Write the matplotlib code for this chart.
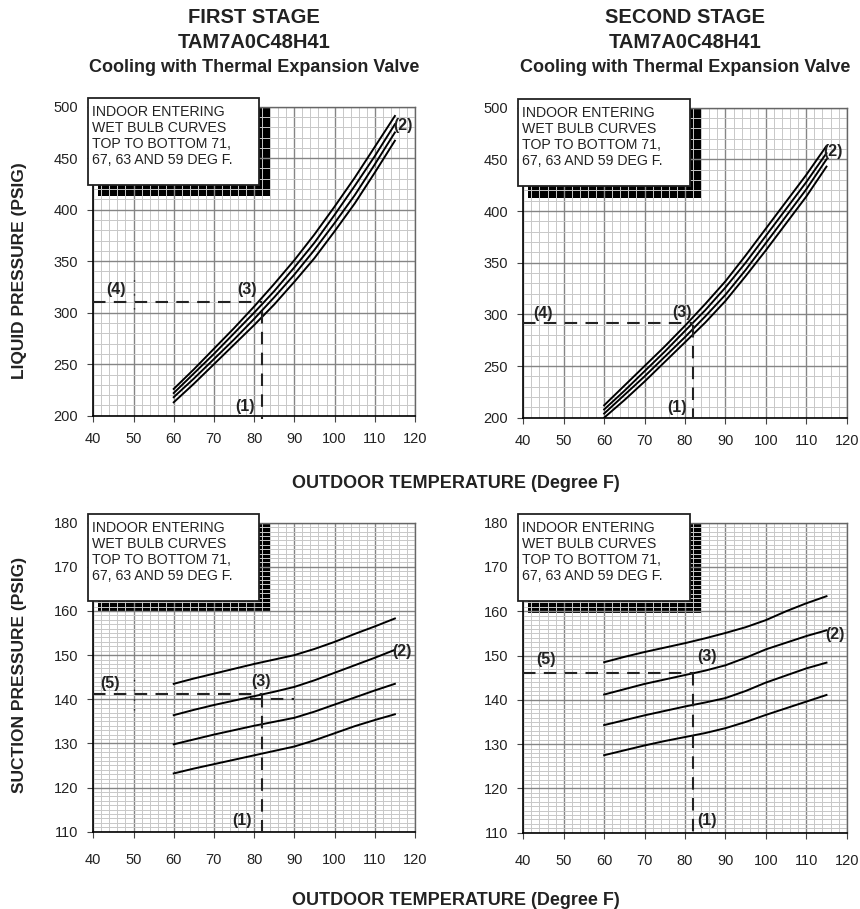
import numpy as np
import matplotlib.pyplot as plt
from matplotlib.patches import Rectangle

plt.rcParams['font.family'] = ['Liberation Sans', 'DejaVu Sans']

temp = [60, 65, 70, 75, 80, 85, 90, 95, 100, 105, 110, 115]

# liquid pressure (psig), first stage, wet bulb 71 / 67 / 63 / 59
liq1_71 = [226, 245, 265, 285, 306, 328, 351, 376, 403, 431, 461, 491]
liq1_67 = [222, 241, 260, 280, 300, 321, 344, 368, 395, 423, 452, 483]
liq1_63 = [218, 236, 255, 274, 294, 315, 337, 361, 387, 414, 444, 475]
liq1_59 = [213, 231, 250, 269, 288, 308, 330, 353, 379, 406, 436, 467]

# liquid pressure (psig), second stage
liq2_71 = [212, 231, 250, 269, 289, 310, 332, 357, 383, 409, 435, 463]
liq2_67 = [208, 226, 245, 264, 284, 304, 326, 350, 376, 402, 428, 456]
liq2_63 = [204, 222, 240, 259, 278, 298, 319, 343, 369, 395, 421, 450]
liq2_59 = [200, 217, 235, 254, 273, 292, 313, 337, 362, 388, 414, 443]

# suction pressure (psig), first stage
suc1_71 = [143.5, 144.7, 145.8, 146.9, 148.0, 149.0, 150.0, 151.4, 153.0, 154.8, 156.5, 158.3]
suc1_67 = [136.4, 137.6, 138.7, 139.7, 140.7, 141.7, 142.8, 144.3, 146.0, 147.7, 149.4, 151.2]
suc1_63 = [129.8, 130.9, 132.0, 133.0, 134.0, 134.9, 135.8, 137.2, 138.8, 140.4, 142.0, 143.5]
suc1_59 = [123.2, 124.3, 125.3, 126.3, 127.3, 128.3, 129.3, 130.7, 132.3, 133.9, 135.3, 136.6]

# suction pressure (psig), second stage
suc2_71 = [148.5, 149.7, 150.8, 151.8, 152.8, 153.9, 155.1, 156.4, 158.0, 160.0, 161.8, 163.4]
suc2_67 = [141.2, 142.4, 143.6, 144.6, 145.6, 146.6, 147.8, 149.5, 151.4, 152.9, 154.4, 155.7]
suc2_63 = [134.3, 135.4, 136.5, 137.5, 138.5, 139.4, 140.4, 142.0, 143.9, 145.5, 147.1, 148.4]
suc2_59 = [127.5, 128.6, 129.7, 130.7, 131.6, 132.5, 133.6, 135.0, 136.6, 138.1, 139.6, 141.1]

# example reading: outdoor temp and the pressure found at (3)
t_read = 82
liq1_read, liq2_read = 310, 292
suc1_read, suc2_read = 141.2, 146.0

box_txt = 'INDOOR ENTERING\nWET BULB CURVES\nTOP TO BOTTOM 71,\n67, 63 AND 59 DEG F.'
stage_titles = [('FIRST STAGE', 'TAM7A0C48H41', 'Cooling with Thermal Expansion Valve'),
                ('SECOND STAGE', 'TAM7A0C48H41', 'Cooling with Thermal Expansion Valve')]

W, H = 860, 909
fig = plt.figure(figsize=(W / 100, H / 100), dpi=100)


def px_axes(x0, y0, x1, y1):
    # pixel box (top-left origin) -> figure fraction axes
    return fig.add_axes([x0 / W, 1 - y1 / H, (x1 - x0) / W, (y1 - y0) / H])


def panel(ax, curves, ylo, yhi, ymaj, ymin, xpad):
    ax.set_xlim(40, 120)
    ax.set_ylim(ylo, yhi)
    ax.set_xticks(np.arange(40, 121, 10))
    ax.set_xticks(np.arange(40, 121, 2), minor=True)
    ax.set_yticks(np.arange(ylo, yhi + 1, ymaj))
    ax.set_yticks(np.arange(ylo, yhi + 0.1, ymin), minor=True)
    ax.grid(which='minor', color='#c8c8c8', lw=0.7)
    ax.grid(which='major', color='#858585', lw=1.0)
    ax.tick_params(which='minor', length=0)
    ax.tick_params(axis='x', which='major', length=4, width=0.8, pad=xpad,
                   labelsize=10.5, labelcolor='#222222', color='#444444')
    ax.tick_params(axis='y', which='major', length=4, width=0.8, pad=7,
                   labelsize=10.5, labelcolor='#222222', color='#444444')
    for s in ['left', 'bottom']:
        ax.spines[s].set_color('black')
        ax.spines[s].set_linewidth(1.2)
    for s in ['top', 'right']:
        ax.spines[s].set_color('#666666')
        ax.spines[s].set_linewidth(1.0)

    for c in curves:
        ax.plot(temp, c, color='black', lw=1.4, zorder=2.5)

    # black shadow under the note box, grid shows through it
    ax.add_patch(Rectangle((0.015, 0.71), 0.535, 0.285, transform=ax.transAxes,
                           facecolor='black', edgecolor='none', zorder=1, clip_on=False))
    ax.add_patch(Rectangle((-0.016, 0.748), 0.53, 0.28, transform=ax.transAxes,
                           facecolor='white', edgecolor='#222222', lw=1.3, zorder=5, clip_on=False))
    ax.text(-0.004, 1.006, box_txt, transform=ax.transAxes, fontsize=10.2, va='top',
            ha='left', linespacing=1.18, color='#222222', zorder=6)


def lab(ax, x, y, s):
    ax.text(x, y, s, fontsize=11.5, fontweight='bold', ha='center', va='center',
            color='#222222', zorder=4, clip_on=False)


dash = dict(color='#222222', lw=1.5, ls=(0, (6, 4)), zorder=3, clip_on=False)

###############################  liquid pressure  ###############################
ax1 = px_axes(93.3, 106.7, 415.0, 415.7)
panel(ax1, [liq1_71, liq1_67, liq1_63, liq1_59], 200, 500, 50, 10, 8)
ax1.plot([40, t_read], [liq1_read, liq1_read], **dash)
ax1.plot([t_read, t_read], [302, 197], **dash)
ax1.plot([50, 50], [304, 333], color='#222222', lw=1.0, ls=(0, (1, 9)), zorder=3)
lab(ax1, 45.6, 323, '(4)')
lab(ax1, 78.2, 323, '(3)')
lab(ax1, 117.1, 482, '(2)')
lab(ax1, 77.7, 209, '(1)')

ax2 = px_axes(523.3, 107.7, 846.7, 417.7)
panel(ax2, [liq2_71, liq2_67, liq2_63, liq2_59], 200, 500, 50, 10, 8)
ax2.plot([40, t_read], [liq2_read, liq2_read], **dash)
ax2.plot([t_read, t_read], [290, 200], **dash)
lab(ax2, 44.8, 301, '(4)')
lab(ax2, 79.2, 302, '(3)')
lab(ax2, 116.7, 458, '(2)')
lab(ax2, 78.0, 210, '(1)')

###############################  suction pressure  ##############################
ax3 = px_axes(93.3, 522.7, 415.0, 831.7)
panel(ax3, [suc1_71, suc1_67, suc1_63, suc1_59], 110, 180, 10, 1, 11)
ax3.plot([40, t_read], [suc1_read, suc1_read], **dash)
ax3.plot([79, 90], [140.1, 140.1], **dash)
ax3.plot([t_read, t_read], [141, 109], **dash)
ax3.plot([50, 50], [137.5, 145], color='#222222', lw=1.0, ls=(0, (1, 6)), zorder=3)
lab(ax3, 44.2, 143.5, '(5)')
lab(ax3, 81.6, 144, '(3)')
lab(ax3, 116.7, 150.8, '(2)')
lab(ax3, 76.9, 112.5, '(1)')

ax4 = px_axes(523.3, 522.7, 846.7, 832.7)
panel(ax4, [suc2_71, suc2_67, suc2_63, suc2_59], 110, 180, 10, 1, 11)
ax4.plot([40, t_read], [suc2_read, suc2_read], **dash)
ax4.plot([t_read, t_read], [146, 110], **dash)
lab(ax4, 45.6, 149, '(5)')
lab(ax4, 85.5, 149.7, '(3)')
lab(ax4, 117.2, 154.8, '(2)')
lab(ax4, 85.5, 112.7, '(1)')

# titles over each column
for xc, (t1, t2, t3) in zip([254 / W, 685 / W], stage_titles):
    fig.text(xc, 1 - 22.7 / H, t1, ha='center', va='baseline', fontsize=14.5, fontweight='bold', color='#222222')
    fig.text(xc, 1 - 48.3 / H, t2, ha='center', va='baseline', fontsize=14.5, fontweight='bold', color='#222222')
    fig.text(xc, 1 - 71.7 / H, t3, ha='center', va='baseline', fontsize=13, fontweight='bold', color='#222222')

fig.text(456 / W, 1 - 488 / H, 'OUTDOOR TEMPERATURE (Degree F)', ha='center', va='baseline',
         fontsize=13, fontweight='bold', color='#222222')
fig.text(456 / W, 1 - 905 / H, 'OUTDOOR TEMPERATURE (Degree F)', ha='center', va='baseline',
         fontsize=13, fontweight='bold', color='#222222')
fig.text(19.5 / W, 1 - 271 / H, 'LIQUID PRESSURE (PSIG)', rotation=90, ha='center', va='center',
         fontsize=12.5, fontweight='bold', color='#222222')
fig.text(19.5 / W, 1 - 675 / H, 'SUCTION PRESSURE (PSIG)', rotation=90, ha='center', va='center',
         fontsize=12.5, fontweight='bold', color='#222222')

fig.savefig('out.png', dpi=100)
